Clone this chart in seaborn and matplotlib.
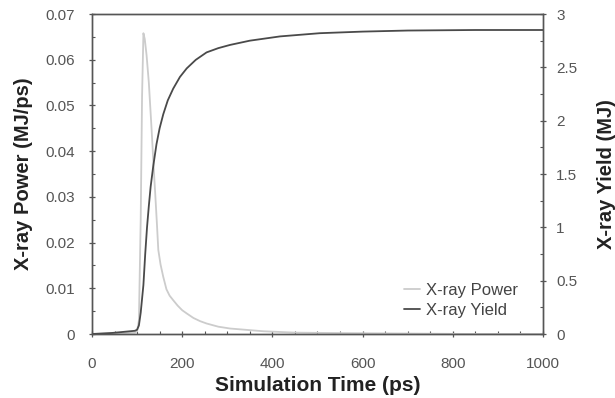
import matplotlib
matplotlib.use("Agg")
import matplotlib.pyplot as plt
import seaborn as sns
import pandas as pd
from matplotlib.ticker import MultipleLocator

sns.set_theme(style="white")
plt.rcParams['font.family'] = ['Liberation Sans', 'DejaVu Sans']

# X-ray power (MJ/ps) vs time (ps)
power_t = [0, 45, 95, 100, 104, 108, 111, 114, 117, 121, 126, 132, 137, 140, 144, 147, 152, 158, 165, 172,
           180, 190, 200, 210, 225, 240, 254, 280, 306, 343, 380, 450, 550, 700, 850, 1000]
power_v = [0.0, 0.0001, 0.0003, 0.0006, 0.003, 0.025, 0.052, 0.0658, 0.0645, 0.061, 0.055, 0.045, 0.036, 0.031,
           0.024, 0.0184, 0.0152, 0.0125, 0.0098, 0.0084, 0.0074, 0.0062, 0.0052, 0.0045, 0.0035, 0.0028, 0.0023,
           0.0016, 0.0012, 0.0009, 0.0006, 0.0003, 0.0002, 0.0001, 0.0, 0.0]

# X-ray yield (MJ) vs time (ps)
yield_t = [0, 45, 95, 100, 104, 108, 111, 114, 118, 122, 126, 130, 136, 143, 150, 158, 168, 180, 195, 210,
           230, 254, 280, 306, 350, 417, 505, 600, 700, 850, 1000]
yield_v = [0.0, 0.01, 0.03, 0.04, 0.08, 0.2, 0.33, 0.46, 0.75, 1.0, 1.2, 1.38, 1.58, 1.78, 1.93, 2.06, 2.19,
           2.3, 2.41, 2.49, 2.57, 2.64, 2.68, 2.71, 2.75, 2.79, 2.82, 2.835, 2.845, 2.85, 2.85]

df_p = pd.DataFrame({"t": power_t, "v": power_v})
df_y = pd.DataFrame({"t": yield_t, "v": yield_v})

fig = plt.figure(figsize=(6.15, 3.98), dpi=100)
ax = fig.add_axes([92 / 615, 1 - 334 / 398, 451 / 615, 320 / 398])
ax2 = ax.twinx()

pc = "#cccccc"
yc = "#4a4a4a"
sns.lineplot(data=df_p, x="t", y="v", ax=ax, color=pc, lw=1.3, label="X-ray Power", legend=False)
sns.lineplot(data=df_y, x="t", y="v", ax=ax2, color=yc, lw=1.3, label="X-ray Yield", legend=False)

ax.set_xlim(0, 1000)
ax.set_ylim(0, 0.07)
ax2.set_ylim(0, 3)

ax.xaxis.set_major_locator(MultipleLocator(200))
ax.xaxis.set_minor_locator(MultipleLocator(50))
ax.yaxis.set_minor_locator(MultipleLocator(0.005))
ax2.yaxis.set_minor_locator(MultipleLocator(0.25))

ax.set_yticks([0, 0.01, 0.02, 0.03, 0.04, 0.05, 0.06, 0.07])
ax.set_yticklabels(["0", "0.01", "0.02", "0.03", "0.04", "0.05", "0.06", "0.07"])
ax2.set_yticks([0, 0.5, 1, 1.5, 2, 2.5, 3])
ax2.set_yticklabels(["0", "0.5", "1", "1.5", "2", "2.5", "3"])

tc = "#555555"
for a in (ax, ax2):
    a.tick_params(which="major", direction="inout", length=5, width=0.9, color="#555555", labelsize=11, labelcolor=tc)
    a.tick_params(which="minor", direction="in", length=2.5, width=0.8, color="#555555")
    for s in a.spines.values():
        s.set_color("#555555")
        s.set_linewidth(1.0)
ax.tick_params(axis="y", which="both", left=True, right=False)
ax.tick_params(axis="y", which="major", pad=10)
ax.tick_params(axis="x", which="both", bottom=True)
ax.tick_params(axis="x", which="major", pad=14)
ax2.tick_params(axis="y", which="both", right=True, left=False)
ax2.tick_params(axis="y", which="major", pad=7)

ax.set_xlabel("Simulation Time (ps)", fontsize=15, fontweight="bold", color="#222222", labelpad=4)
ax.set_ylabel("X-ray Power (MJ/ps)", fontsize=14.5, fontweight="bold", color="#222222", labelpad=9)
ax2.set_ylabel("X-ray Yield (MJ)", fontsize=14.5, fontweight="bold", color="#222222", labelpad=14)

h1, l1 = ax.get_legend_handles_labels()
h2, l2 = ax2.get_legend_handles_labels()
leg = ax2.legend(h1 + h2, l1 + l2, loc="lower right", bbox_to_anchor=(0.945, 0.05), frameon=False,
                 borderaxespad=0, borderpad=0,
                 fontsize=12, handlelength=1.0, handletextpad=0.35, labelspacing=0.3, labelcolor="#444444")

fig.savefig("out.png", dpi=100)
